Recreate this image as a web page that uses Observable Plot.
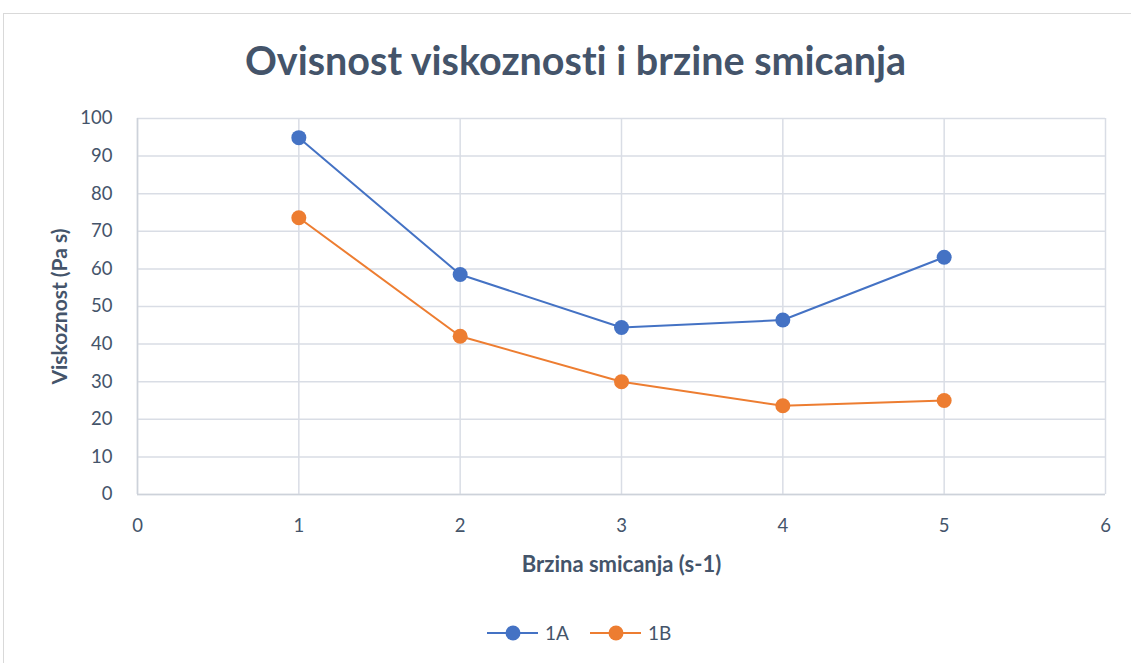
<!DOCTYPE html>
<html>
<head>
<meta charset="utf-8">
<script src="https://cdn.jsdelivr.net/npm/d3@7"></script>
<script src="https://cdn.jsdelivr.net/npm/@observablehq/plot@0.6"></script>
<style>
  html, body { margin: 0; padding: 0; background: #fff; }
  #wrap { position: relative; width: 1131px; height: 663px; overflow: hidden; font-family: Lato, "Open Sans", sans-serif; font-variant-ligatures: none; }
  #frame { position: absolute; left: 3px; top: 13px; width: 1140px; height: 700px; border: 1px solid #d9d9d9; box-sizing: border-box; }
  #title { position: absolute; left: 0; width: 1151px; top: 36px; text-align: center; font-size: 39.5px; font-weight: 700; color: #44546a; }
  #chart { position: absolute; left: 0; top: 100px; }
  #legend { position: absolute; left: 0; top: 620px; width: 1131px; }
  svg text { font-family: Lato, "Open Sans", sans-serif; font-variant-ligatures: none; }
</style>
</head>
<body>
<div id="wrap">
  <div id="frame"></div>
  <div id="title">Ovisnost viskoznosti i brzine smicanja</div>
  <div id="chart"></div>
  <div id="legend"></div>
</div>
<script>
const xValues = [1, 2, 3, 4, 5];
const series1A = [94.9, 58.5, 44.4, 46.4, 63.1];
const series1B = [73.6, 42.1, 30.0, 23.6, 25.0];
const seriesNames = ["1A", "1B"];
const seriesColors = ["#4472c4", "#ed7d31"];
const xTicks = [0, 1, 2, 3, 4, 5, 6];
const yTicks = [0, 10, 20, 30, 40, 50, 60, 70, 80, 90, 100];

const rows = [];
xValues.forEach((x, i) => {
  rows.push({x, y: series1A[i], s: "1A"});
  rows.push({x, y: series1B[i], s: "1B"});
});

const labelColor = "#44546a";
const gridColor = "#d9dde5";

const chart = Plot.plot({
  width: 1131,
  height: 500,
  marginLeft: 137,
  marginRight: 26,
  marginTop: 18,
  marginBottom: 106,
  style: {fontSize: "18.5px", color: labelColor, background: "transparent"},
  x: {domain: [0, 6], ticks: xTicks, label: null},
  y: {domain: [0, 100], ticks: yTicks, label: null},
  color: {domain: seriesNames, range: seriesColors},
  marks: [
    Plot.gridX(xTicks, {stroke: gridColor, strokeOpacity: 1, strokeWidth: 1.5}),
    Plot.gridY(yTicks, {stroke: gridColor, strokeOpacity: 1, strokeWidth: 1.5}),
    Plot.ruleY([0], {stroke: "#cdd2da", strokeWidth: 1.5}),
    Plot.ruleX([0], {stroke: "#cdd2da", strokeWidth: 1.5}),
    Plot.axisX(xTicks, {tickSize: 0, tickPadding: 24, fill: labelColor, fontSize: 18.5, tickFormat: d3.format("d")}),
    Plot.axisY(yTicks, {tickSize: 0, tickPadding: 25, fill: labelColor, fontSize: 18.5, tickFormat: d3.format("d")}),
    Plot.text(["Brzina smicanja (s-1)"], {frameAnchor: "bottom", dy: 77, text: d => d, fill: labelColor, fontSize: 22, fontWeight: 700}),
    Plot.text(["Viskoznost (Pa s)"], {frameAnchor: "left", textAnchor: "middle", dx: -77, rotate: -90, text: d => d, fill: labelColor, fontSize: 21, fontWeight: 700}),
    Plot.line(rows, {x: "x", y: "y", z: "s", stroke: "s", strokeWidth: 2}),
    Plot.dot(rows, {x: "x", y: "y", fill: "s", r: 7.5, stroke: "s", strokeWidth: 0})
  ]
});
document.getElementById("chart").appendChild(chart);

// legend
const lw = 1131, lh = 30;
const lsvg = d3.select("#legend").append("svg").attr("width", lw).attr("height", lh);
const items = [{name: seriesNames[0], color: seriesColors[0], x0: 487}, {name: seriesNames[1], color: seriesColors[1], x0: 590}];
items.forEach(it => {
  const g = lsvg.append("g");
  g.append("line").attr("x1", it.x0).attr("x2", it.x0 + 51).attr("y1", 13).attr("y2", 13).attr("stroke", it.color).attr("stroke-width", 2);
  g.append("circle").attr("cx", it.x0 + 26).attr("cy", 13).attr("r", 7.5).attr("fill", it.color);
  g.append("text").attr("x", it.x0 + 58).attr("y", 13).attr("dy", "0.35em").attr("font-size", 19).attr("fill", labelColor).text(it.name);
});
</script>
</body>
</html>
